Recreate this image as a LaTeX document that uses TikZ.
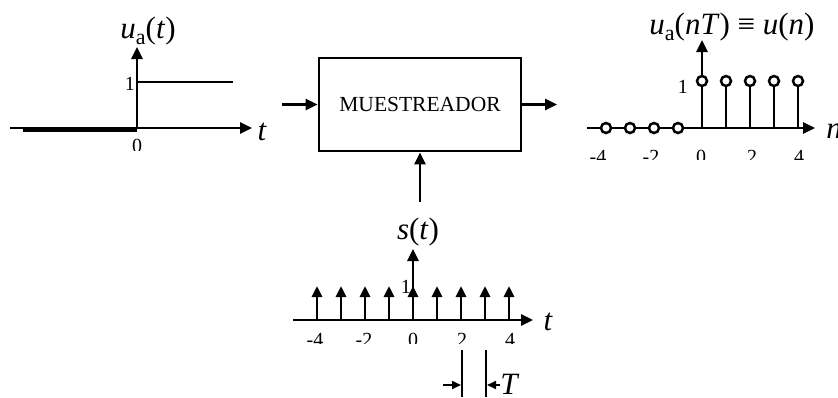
\documentclass[tikz,border=0pt]{standalone}
\usepackage{fontspec}
\setmainfont{Liberation Serif}
\usetikzlibrary{arrows.meta}
\newcommand\subA{\raisebox{-0.2em}{\fontsize{22}{22}\selectfont a}}
\tikzset{
 ax/.style={line width=2.7pt, -{Triangle[length=12pt,width=11pt]}},
 ln/.style={line width=2.7pt},
 imp/.style={line width=2.7pt, -{Triangle[length=11pt,width=10pt]}},
 tick/.style={inner sep=0pt, anchor=north, font=\fontsize{20}{20}\selectfont},
 one/.style={inner sep=0pt, anchor=east, font=\fontsize{20}{20}\selectfont},
 ttl/.style={inner sep=0pt, anchor=base, font=\fontsize{31}{31}\selectfont},
 var/.style={inner sep=0pt, font=\fontsize{31}{31}\selectfont\itshape},
 blk/.style={draw, line width=2.7pt, minimum width=202pt, minimum height=93pt, inner sep=0pt, font=\fontsize{21.5}{21.5}\selectfont},
 stem/.style={draw, circle, fill=white, line width=2.5pt, minimum size=10pt, inner sep=0pt},
 tmark/.style={line width=1.7pt},
 tarr/.style={line width=1.7pt, -{Triangle[length=9pt,width=8pt]}},
}
\begin{document}
\begin{tikzpicture}[x=1pt,y=-1pt]
\useasboundingbox (0,0) rectangle (838,397);
% ---------- left plot u_a(t)
\coordinate (Ls) at (10,128);
\coordinate (Le) at (252,128);
\coordinate (Lo) at (137,128);
\coordinate (Lt) at (137,47);
\draw[ax] (Ls) -- (Le);
\draw[ln] (23,130.5) -- (137,130.5);
\draw[ax] (Lo) -- (Lt);
\draw[ln] (137,82) -- (233,82);
\node[one] (L1) at (135,84) {1};
\begin{scope}
\clip (100,130) rectangle (180,150);
\node[tick] (L0) at (137,139) {0};
\end{scope}
\node[var] (Lx) at (262,132) {t};
\node[ttl] (Ltitle) at (148,38) {\textit{u}\subA(\textit{t})};
% ---------- block
\node[blk] (mu) at (420,104.5) {MUESTREADOR};
\coordinate (in) at (282,104.5);
\coordinate (out) at (557,104.5);
\coordinate (sin) at (420,202);
\draw[ax] (in) -- (mu.west);
\draw[ax] (mu.east) -- (out);
\draw[ax] (sin) -- (mu.south);
% ---------- right plot u(n)
\coordinate (Rs) at (587,128);
\coordinate (Re) at (815,128);
\coordinate (Ro) at (702,128);
\coordinate (Rt) at (702,40);
\draw[ax] (Rs) -- (Re);
\draw[ax] (Ro) -- (Rt);
\foreach \k in {0,...,4} {
  \draw[ln] (702+24*\k,128) -- (702+24*\k,81);
  \node[stem] (p\k) at (702+24*\k,81) {};
}
\foreach \k in {1,...,4} {
  \node[stem] (m\k) at (702-24*\k,128) {};
}
\node[one] (R1) at (688,87) {1};
\begin{scope}
\clip (580,145) rectangle (822,159);
\node[tick] (Rm4) at (598,150) {-4};
\node[tick] (Rm2) at (651,150) {-2};
\node[tick] (R0) at (701,150) {0};
\node[tick] (R2) at (752,150) {2};
\node[tick] (R4) at (799,150) {4};
\end{scope}
\node[var] (Rx) at (834,131) {n};
\node[ttl] (Rtitle) at (732,34) {\textit{u}\subA(\textit{nT}) ≡ \textit{u}(\textit{n})};
% ---------- bottom plot s(t)
\coordinate (Bs) at (293,320);
\coordinate (Be) at (533,320);
\coordinate (Bo) at (413,320);
\coordinate (Bt) at (413,249);
\draw[ax] (Bs) -- (Be);
\draw[ax] (Bo) -- (Bt);
\foreach \k in {-4,...,4} {
  \draw[imp] (413+24*\k,320) -- (413+24*\k,286);
}
\node[one] (B1) at (411,287) {1};
\begin{scope}
\clip (290,330) rectangle (540,343);
\node[tick] (Bm4) at (315,333) {-4};
\node[tick] (Bm2) at (364,333) {-2};
\node[tick] (B0) at (413,333) {0};
\node[tick] (B2) at (462,333) {2};
\node[tick] (B4) at (510,333) {4};
\end{scope}
\node[var] (Bx) at (548,322) {t};
\node[ttl] (Btitle) at (418,239) {\textit{s}(\textit{t})};
% ---------- period marker T
\coordinate (Ta1) at (462,350);
\coordinate (Ta2) at (462,397);
\coordinate (Tb1) at (486,350);
\coordinate (Tb2) at (486,397);
\draw[tmark] (Ta1) -- (Ta2);
\draw[tmark] (Tb1) -- (Tb2);
\coordinate (TL) at (443,385);
\node[var] (TT) at (509,384) {T};
\draw[tarr] (TL) -- (461,385);
\draw[tarr] (TT.west |- TL) -- (487,385);
\end{tikzpicture}
\end{document}
